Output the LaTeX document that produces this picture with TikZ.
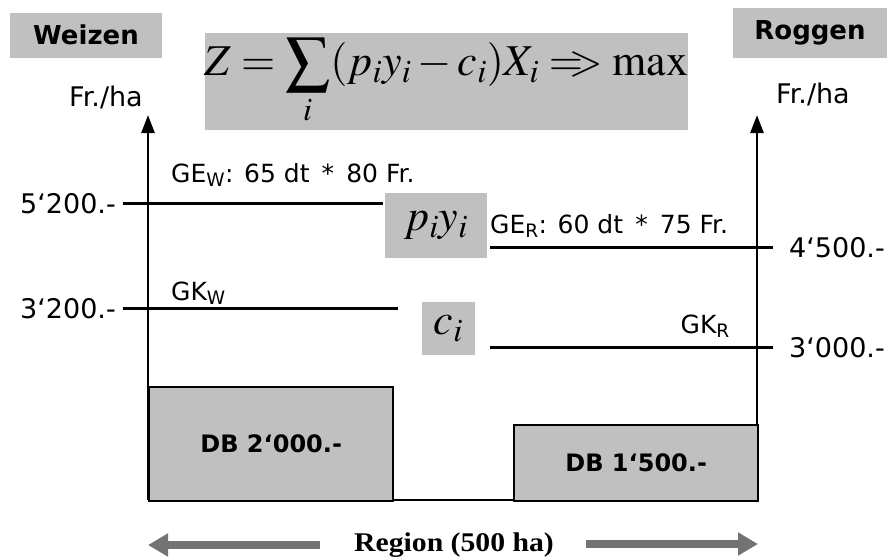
\documentclass[tikz,border=0pt]{standalone}
\usepackage{mathptmx}
\usepackage{fontspec}
\setmainfont{DejaVu Sans}
\newfontfamily\serif{Liberation Serif}
\usetikzlibrary{arrows.meta}
\definecolor{halft}{RGB}{192,192,192}
\definecolor{arrgrey}{RGB}{115,115,115}
\begin{document}
\begin{tikzpicture}[x=1pt,y=-1pt,
  shadebox/.style={fill=halft,draw=none,inner sep=0pt},
  lbl/.style={font=\fontsize{27}{30}\selectfont,inner sep=0pt},
  small/.style={font=\fontsize{25}{28}\selectfont,inner sep=0pt},
  head/.style={font=\fontsize{26}{28}\selectfont\bfseries},
  dbtext/.style={font=\fontsize{24}{26}\selectfont\bfseries},
  axisline/.style={line width=2.6pt,-{Triangle[width=13pt,length=18pt]}},
  levelline/.style={line width=3pt},
  dbbox/.style={fill=halft,draw=black,line width=2.4pt,inner sep=0pt},
  regarrow/.style={draw=arrgrey,line width=8pt,-{Triangle[width=22pt,length=20pt]}},
  mathbig/.style={font=\fontsize{44}{48}\selectfont,inner sep=0pt}
]
\useasboundingbox (0,0) rectangle (887,558);

% headers
\node[shadebox,head,minimum width=152pt,minimum height=45pt] (weizen) at (86,35) {Weizen};
\node[shadebox,head,minimum width=154pt,minimum height=50pt] (roggen) at (810,33) {Roggen};

% formula
\node[shadebox,mathbig,minimum width=483pt,minimum height=97pt] (formula) at (446.5,81.5)
  {$\displaystyle Z=\sum_{i}(p_{i}y_{i}-c_{i})X_{i}\mathrel{=\mkern-6mu>}\max$};

% axis units
\node[lbl,anchor=base] (unitl) at (106,106) {Fr./ha};
\node[lbl,anchor=base] (unitr) at (813,103) {Fr./ha};

% axes
\coordinate (o) at (148,500);
\coordinate (otop) at (148,115);
\coordinate (r) at (757,500);
\coordinate (rtop) at (757,115);
\draw[axisline] (o) -- (otop);
\draw[axisline] (r) -- (rtop);
\draw[line width=2.6pt] (o) -- (r);

% DB boxes
\node[dbbox,dbtext,minimum width=244pt,minimum height=114pt,anchor=north west] (dbw) at (148,386) {DB 2‘000.-};
\node[dbbox,dbtext,minimum width=244pt,minimum height=76pt,anchor=north west] (dbr) at (513,424) {DB 1‘500.-};

% level lines Weizen
\coordinate (gea) at (123,203); \coordinate (geb) at (383,203);
\coordinate (gka) at (123,308); \coordinate (gkb) at (398,308);
\draw[levelline] (gea) -- (geb);
\draw[levelline] (gka) -- (gkb);
\node[lbl,anchor=base east] (v52) at (116,213) {5‘200.-};
\node[lbl,anchor=base east] (v32) at (116,318) {3‘200.-};
\node[small,anchor=base west] (gew) at (171,182) {GE\textsubscript{W}: 65 dt \,*\, 80 Fr.};
\node[small,anchor=base west] (gkw) at (171,300) {GK\textsubscript{W}};

% level lines Roggen
\coordinate (gra) at (490,247); \coordinate (grb) at (773,247);
\coordinate (kra) at (490,347); \coordinate (krb) at (773,347);
\draw[levelline] (gra) -- (grb);
\draw[levelline] (kra) -- (krb);
\node[lbl,anchor=base west] (v45) at (789,257) {4‘500.-};
\node[lbl,anchor=base west] (v30) at (789,357) {3‘000.-};
\node[small,anchor=base west] (ger) at (490,233) {GE\textsubscript{R}: 60 dt \,*\, 75 Fr.};
\node[small,anchor=base east] (gkr) at (730,333) {GK\textsubscript{R}};

% piyi and ci
\node[shadebox,mathbig,minimum width=102pt,minimum height=65pt] (py) at (436,225.5) {$p_{i}y_{i}$};
\node[shadebox,mathbig,minimum width=53pt,minimum height=53pt] (ci) at (448.5,328.5) {$c_{i}$};

% region
\node[inner sep=0pt,font=\serif\bfseries\fontsize{27}{30}\selectfont] (region) at (454,545) {\scalebox{1.1}[1]{Region (500 ha)}};
\coordinate (rl1) at (320,545); \coordinate (rl2) at (148,545);
\coordinate (rr1) at (586,544); \coordinate (rr2) at (758,544);
\draw[regarrow] (rl1) -- (rl2);
\draw[regarrow] (rr1) -- (rr2);
\end{tikzpicture}
\end{document}
